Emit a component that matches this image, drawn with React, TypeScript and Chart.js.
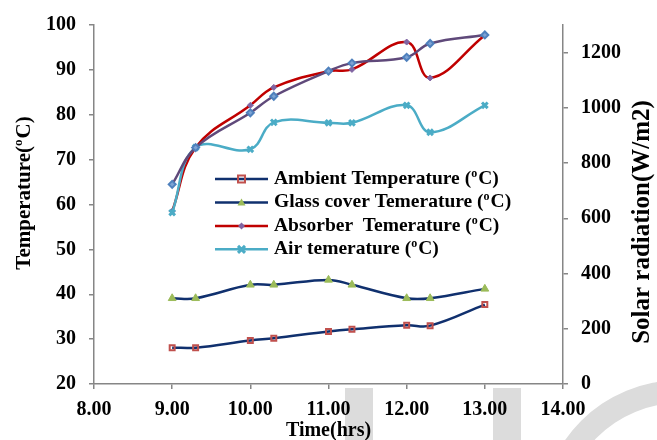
import React, { useEffect, useRef } from 'react';
import { Chart, registerables } from 'chart.js';

Chart.register(...registerables);

// ---- data ----
const times = [9.0, 9.3, 10.0, 10.3, 11.0, 11.3, 12.0, 12.3, 13.0];
const ambientTemp = [28.1, 28.1, 29.7, 30.2, 31.7, 32.2, 33.1, 33.0, 37.7];
const glassTemp = [39.1, 39.1, 42.1, 42.1, 43.2, 42.1, 39.1, 39.1, 41.2];
const absorberTemp = [58.5, 72.7, 82.1, 86.1, 89.7, 90.1, 96.2, 88.2, 97.7];
const airTemp = [58.2, 72.7, 72.3, 78.3, 78.2, 78.2, 82.1, 76.1, 82.1];
const solarRadiation = [723, 856, 982, 1042, 1133, 1162, 1183, 1233, 1264];

const seriesLabels = [
  'Ambient Temperature (ᵒC)',
  'Glass cover Temerature (ᵒC)',
  'Absorber  Temerature (ᵒC)',
  'Air temerature (ᵒC)',
];
const xTitle = 'Time(hrs)';
const yTitle = 'Temperature(ᵒC)';
const y2Title = 'Solar radiation(W/m2)';

const FONT = "'Liberation Serif', 'Times New Roman', serif";
const AXIS = '#868686';
const NAVY = '#10306e';
const RED = '#c00000';
const CYAN = '#4bacc6';
const PURPLE = '#5f497a';

const toPts = (ys: number[]) => times.map((t, i) => ({ x: t, y: ys[i] }));

function drawRich(ctx: CanvasRenderingContext2D, text: string, x: number, y: number, size: number, align: 'left' | 'center') {
  const parts = text.split('ᵒ');
  const big = `bold ${size}px ${FONT}`;
  const small = `bold ${Math.round(size * 0.62)}px ${FONT}`;
  ctx.textBaseline = 'middle';
  ctx.textAlign = 'left';
  const segs: { t: string; sup: boolean }[] = [];
  parts.forEach((p, i) => {
    if (i > 0) segs.push({ t: 'o', sup: true });
    if (p) segs.push({ t: p, sup: false });
  });
  let total = 0;
  segs.forEach((s) => {
    ctx.font = s.sup ? small : big;
    total += ctx.measureText(s.t).width + (s.sup ? 1 : 0);
  });
  let cx = align === 'center' ? x - total / 2 : x;
  segs.forEach((s) => {
    ctx.font = s.sup ? small : big;
    ctx.fillText(s.t, cx, s.sup ? y - size * 0.28 : y);
    cx += ctx.measureText(s.t).width + (s.sup ? 1 : 0);
  });
}

function drawMarker(ctx: CanvasRenderingContext2D, kind: string, x: number, y: number) {
  ctx.save();
  if (kind === 'square') {
    ctx.strokeStyle = '#c0504d';
    ctx.lineWidth = 2;
    ctx.strokeRect(x - 3.5, y - 3.5, 7, 7);
  } else if (kind === 'triangle') {
    ctx.fillStyle = '#9bbb59';
    ctx.beginPath();
    ctx.moveTo(x, y - 4);
    ctx.lineTo(x + 4, y + 3);
    ctx.lineTo(x - 4, y + 3);
    ctx.closePath();
    ctx.fill();
  } else if (kind === 'diamond') {
    ctx.fillStyle = '#8064a2';
    ctx.beginPath();
    ctx.moveTo(x, y - 3.5);
    ctx.lineTo(x + 3.5, y);
    ctx.lineTo(x, y + 3.5);
    ctx.lineTo(x - 3.5, y);
    ctx.closePath();
    ctx.fill();
  } else if (kind === 'x') {
    ctx.strokeStyle = CYAN;
    ctx.lineWidth = 3;
    ctx.beginPath();
    ctx.moveTo(x - 3.5, y - 3.5);
    ctx.lineTo(x + 3.5, y + 3.5);
    ctx.moveTo(x + 3.5, y - 3.5);
    ctx.lineTo(x - 3.5, y + 3.5);
    ctx.stroke();
  }
  ctx.restore();
}

const legendLines = [NAVY, NAVY, RED, CYAN];
const legendMarkers = ['square', 'triangle', 'diamond', 'x'];

const decorPlugin = {
  id: 'decor',
  beforeDraw(chart: any) {
    const ctx = chart.ctx as CanvasRenderingContext2D;
    ctx.save();
    ctx.fillStyle = '#ffffff';
    ctx.fillRect(0, 0, chart.width, chart.height);
    ctx.fillStyle = '#dcdcdc';
    ctx.fillRect(345, 388, 28, 52);
    ctx.fillRect(493, 388, 28, 52);
    ctx.beginPath();
    ctx.arc(680, 520, 140, 0, Math.PI * 2);
    ctx.arc(680, 520, 117, 0, Math.PI * 2, true);
    ctx.fill();
    ctx.restore();
  },
  afterDraw(chart: any) {
    const ctx = chart.ctx as CanvasRenderingContext2D;
    const area = chart.chartArea;
    ctx.save();
    ctx.fillStyle = '#000';
    // axis titles
    drawRich(ctx, xTitle, (area.left + area.right) / 2, 431, 20, 'center');
    ctx.save();
    ctx.translate(25, 193);
    ctx.rotate(-Math.PI / 2);
    drawRich(ctx, yTitle, 0, 0, 21, 'center');
    ctx.restore();
    ctx.save();
    ctx.translate(643, 222);
    ctx.rotate(-Math.PI / 2);
    drawRich(ctx, y2Title, 0, 0, 25, 'center');
    ctx.restore();
    // legend
    const x0 = 215, x1 = 268, top = 179, step = 23.45;
    seriesLabels.forEach((label, i) => {
      const y = top + i * step;
      ctx.strokeStyle = legendLines[i];
      ctx.lineWidth = 2.5;
      ctx.beginPath();
      ctx.moveTo(x0, y);
      ctx.lineTo(x1, y);
      ctx.stroke();
      drawMarker(ctx, legendMarkers[i], (x0 + x1) / 2, y);
      ctx.fillStyle = '#000';
      drawRich(ctx, label, 274, y, 19.5, 'left');
    });
    ctx.restore();
  },
};

export default function App() {
  const ref = useRef<HTMLCanvasElement | null>(null);
  useEffect(() => {
    if (!ref.current) return;
    const tickFont = { family: FONT, size: 20, weight: 'bold' as const };
    const grid = { drawOnChartArea: false, drawTicks: true, tickLength: 5, color: AXIS, lineWidth: 1.5 };
    const border = { color: AXIS, width: 1.5 };
    const chart = new Chart(ref.current, {
      type: 'line',
      data: {
        datasets: [
          {
            label: seriesLabels[0], data: toPts(ambientTemp), yAxisID: 'y', order: 5,
            borderColor: NAVY, borderWidth: 2.5, tension: 0.4,
            pointStyle: 'rect', pointRadius: 3.5, pointBorderColor: '#c0504d', pointBackgroundColor: 'rgba(0,0,0,0)', pointBorderWidth: 2,
          },
          {
            label: seriesLabels[1], data: toPts(glassTemp), yAxisID: 'y', order: 4,
            borderColor: NAVY, borderWidth: 2.5, tension: 0.4,
            pointStyle: 'triangle', pointRadius: 4.5, pointBorderColor: '#9bbb59', pointBackgroundColor: '#9bbb59', pointBorderWidth: 1,
          },
          {
            label: seriesLabels[2], data: toPts(absorberTemp), yAxisID: 'y', order: 3,
            borderColor: RED, borderWidth: 2.5, tension: 0.4,
            pointStyle: 'rectRot', pointRadius: 3, pointBorderColor: '#8064a2', pointBackgroundColor: '#8064a2', pointBorderWidth: 1,
          },
          {
            label: seriesLabels[3], data: toPts(airTemp), yAxisID: 'y', order: 2,
            borderColor: CYAN, borderWidth: 2.5, tension: 0.4,
            pointStyle: 'crossRot', pointRadius: 4, pointBorderColor: CYAN, pointBackgroundColor: CYAN, pointBorderWidth: 3,
          },
          {
            label: 'Solar radiation', data: toPts(solarRadiation), yAxisID: 'y2', order: 1,
            borderColor: PURPLE, borderWidth: 2.5, tension: 0.4,
            pointStyle: 'rectRot', pointRadius: 3.5, pointBorderColor: '#4f81bd', pointBackgroundColor: '#7ea3d4', pointBorderWidth: 2,
          },
        ],
      },
      options: {
        responsive: false,
        animation: false,
        devicePixelRatio: 1,
        layout: { padding: { top: 16, left: 0, right: 0, bottom: 0 } },
        plugins: { legend: { display: false }, tooltip: { enabled: false } },
        scales: {
          x: {
            type: 'linear', position: 'bottom', min: 8, max: 14,
            ticks: { stepSize: 1, font: tickFont, color: '#000', padding: 9, maxRotation: 0, autoSkip: false,
              callback: (v: any) => Number(v).toFixed(2) },
            grid, border,
            afterFit: (s: any) => { s.height = 56; },
          },
          y: {
            type: 'linear', position: 'left', min: 20, max: 100,
            ticks: { stepSize: 10, font: tickFont, color: '#000', padding: 13, callback: (v: any) => String(v) },
            grid, border,
            afterFit: (s: any) => { s.width = 94; },
          },
          y2: {
            type: 'linear', position: 'right', min: 0, max: 1300,
            ticks: { stepSize: 200, font: tickFont, color: '#000', padding: 13, callback: (v: any) => String(v) },
            grid, border,
            afterBuildTicks: (s: any) => { s.ticks = s.ticks.filter((t: any) => t.value <= 1200); },
            afterFit: (s: any) => { s.width = 94; },
          },
        },
      },
      plugins: [decorPlugin],
    });
    return () => chart.destroy();
  }, []);
  return (
    <div style={{ position: 'absolute', left: 0, top: 0, width: 657, height: 440 }}>
      <canvas ref={ref} width={657} height={440} />
    </div>
  );
}
